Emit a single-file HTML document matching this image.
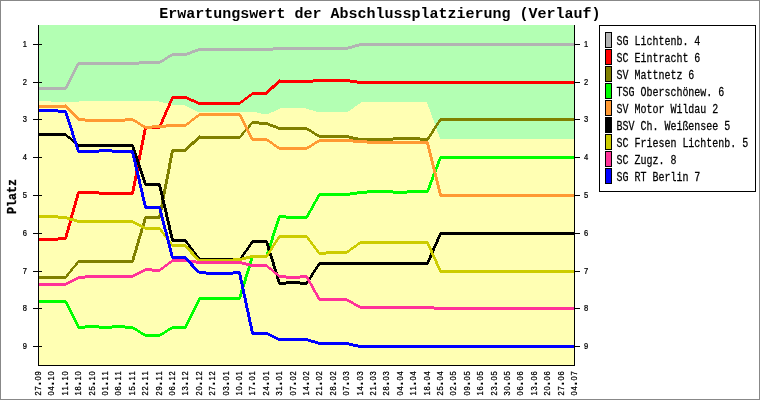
<!DOCTYPE html>
<html lang="de">
<head>
<meta charset="utf-8">
<title>Erwartungswert der Abschlussplatzierung (Verlauf)</title>
<style>
html,body{margin:0;padding:0;background:#fff;}
body{width:760px;height:400px;overflow:hidden;}
svg{display:block;font-family:"Liberation Mono","DejaVu Sans Mono",monospace;}
text{fill:#000;}
.t{font-weight:bold;font-size:14.5px;}
.l{font-size:12.5px;stroke:#000;stroke-width:0.25px;}
.s{font-family:"Liberation Sans","DejaVu Sans",sans-serif;font-weight:normal;font-size:8.4px;stroke:#000;stroke-width:0.25px;}
.d{font-size:15px;font-weight:bold;stroke:none;}
.y{font-weight:bold;font-size:12.3px;stroke:#000;stroke-width:0.3px;}
</style>
</head>
<body>
<svg width="760" height="400" viewBox="0 0 760 400">
<rect x="0" y="0" width="760" height="400" fill="#fff"/>
<rect x="0.5" y="0.5" width="759" height="399" fill="none" stroke="#888888" stroke-width="1" shape-rendering="crispEdges"/>
<g shape-rendering="crispEdges" stroke="none">
<rect x="38" y="25" width="537" height="341" fill="#FFFFB3"/>
<path fill="#B3FFB3" d="M38 25h537v76h-537zM51 101h28v1h-28zM159 101h416v1h-416zM163 102h198v1h-198zM427 102h148v2h-148zM168 103h192v1h-192zM172 104h186v1h-186zM428 104h147v3h-147zM185 105h172v1h-172zM187 106h168v1h-168zM189 107h165v1h-165zM429 107h146v2h-146zM191 108h89v1h-89zM306 108h47v1h-47zM193 109h85v1h-85zM309 109h42v1h-42zM430 109h145v3h-145zM195 110h81v1h-81zM313 110h37v1h-37zM197 111h77v1h-77zM316 111h32v1h-32zM257 112h14v1h-14zM431 112h144v3h-144zM261 113h8v1h-8zM432 115h143v3h-143zM433 118h142v2h-142zM434 120h141v3h-141zM435 123h140v3h-140zM436 126h139v3h-139zM437 129h138v3h-138zM438 132h137v2h-137zM439 134h136v3h-136zM440 137h135v2h-135z"/>
<path fill="#B3B3B3" d="M359 43h216v1h-216zM355 44h220v1h-220zM352 45h223v1h-223zM348 46h11v1h-11zM273 47h82v1h-82zM198 48h154v1h-154zM195 49h153v1h-153zM192 50h81v1h-81zM190 51h8v1h-8zM187 52h8v1h-8zM172 53h20v1h-20zM170 54h20v1h-20zM168 55h19v1h-19zM167 56h5v1h-5zM165 57h5v1h-5zM164 58h4v1h-4zM162 59h5v1h-5zM160 60h5v1h-5zM139 61h25v1h-25zM78 62h84v1h-84zM77 63h83v1h-83zM76 64h63v1h-63zM76 65h3v1h-3zM75 66h3v2h-3zM74 68h3v2h-3zM73 70h3v2h-3zM72 72h3v2h-3zM71 74h3v2h-3zM70 76h3v2h-3zM69 78h3v2h-3zM68 80h3v2h-3zM67 82h3v2h-3zM66 84h3v2h-3zM65 86h3v1h-3zM38 87h30v1h-30zM38 88h29v1h-29zM38 89h28v1h-28z"/>
<path fill="#FF0000" d="M279 79h1v1h-1zM313 79h37v1h-37zM278 80h79v1h-79zM277 81h298v1h-298zM276 82h37v1h-37zM350 82h225v1h-225zM275 83h4v1h-4zM357 83h218v1h-218zM274 84h4v1h-4zM272 85h5v1h-5zM271 86h5v1h-5zM270 87h5v1h-5zM269 88h5v1h-5zM268 89h4v1h-4zM267 90h4v1h-4zM266 91h4v1h-4zM252 92h17v1h-17zM251 93h17v1h-17zM249 94h18v1h-18zM248 95h4v1h-4zM172 96h15v1h-15zM247 96h4v1h-4zM171 97h18v1h-18zM245 97h4v1h-4zM171 98h20v1h-20zM244 98h4v1h-4zM170 99h3v2h-3zM187 99h7v1h-7zM243 99h4v1h-4zM189 100h7v1h-7zM241 100h4v1h-4zM169 101h3v2h-3zM191 101h7v1h-7zM240 101h4v1h-4zM194 102h49v1h-49zM168 103h3v3h-3zM196 103h45v1h-45zM198 104h42v1h-42zM167 106h3v2h-3zM166 108h3v2h-3zM165 110h3v2h-3zM164 112h3v3h-3zM163 115h3v2h-3zM162 117h3v2h-3zM161 119h3v3h-3zM160 122h3v2h-3zM159 124h3v2h-3zM145 126h16v1h-16zM144 127h17v1h-17zM144 128h16v1h-16zM144 129h3v1h-3zM143 130h3v5h-3zM142 135h3v5h-3zM141 140h3v5h-3zM140 145h3v5h-3zM139 150h3v5h-3zM138 155h3v5h-3zM137 160h3v6h-3zM136 166h3v5h-3zM135 171h3v5h-3zM134 176h3v5h-3zM133 181h3v5h-3zM132 186h3v5h-3zM78 191h21v1h-21zM131 191h3v1h-3zM77 192h57v2h-57zM76 194h3v4h-3zM99 194h34v1h-34zM75 198h3v3h-3zM74 201h3v4h-3zM73 205h3v3h-3zM72 208h3v4h-3zM71 212h3v3h-3zM70 215h3v4h-3zM69 219h3v4h-3zM68 223h3v3h-3zM67 226h3v4h-3zM66 230h3v3h-3zM65 233h3v4h-3zM58 237h9v1h-9zM38 238h29v1h-29zM38 239h28v1h-28zM38 240h20v1h-20z"/>
<path fill="#808000" d="M440 118h135v1h-135zM439 119h136v1h-136zM438 120h137v1h-137zM252 121h7v1h-7zM438 121h3v1h-3zM251 122h17v1h-17zM437 122h3v1h-3zM250 123h20v1h-20zM436 123h3v2h-3zM249 124h3v1h-3zM259 124h14v1h-14zM248 125h3v2h-3zM268 125h8v1h-8zM435 125h3v1h-3zM270 126h8v1h-8zM434 126h3v2h-3zM247 127h3v1h-3zM273 127h34v1h-34zM246 128h3v1h-3zM276 128h33v1h-33zM433 128h3v1h-3zM245 129h3v1h-3zM278 129h33v1h-33zM432 129h3v2h-3zM244 130h3v1h-3zM307 130h5v1h-5zM243 131h3v1h-3zM309 131h5v1h-5zM431 131h3v2h-3zM242 132h3v1h-3zM311 132h4v1h-4zM241 133h3v2h-3zM312 133h5v1h-5zM430 133h3v1h-3zM314 134h5v1h-5zM429 134h3v2h-3zM199 135h1v1h-1zM240 135h3v1h-3zM315 135h34v1h-34zM198 136h44v1h-44zM317 136h36v1h-36zM428 136h3v1h-3zM197 137h44v1h-44zM319 137h39v1h-39zM393 137h27v1h-27zM427 137h3v1h-3zM196 138h44v1h-44zM349 138h81v1h-81zM195 139h4v1h-4zM353 139h76v1h-76zM194 140h4v1h-4zM358 140h35v1h-35zM420 140h8v1h-8zM192 141h5v1h-5zM191 142h5v1h-5zM190 143h5v1h-5zM189 144h5v1h-5zM188 145h4v1h-4zM187 146h4v1h-4zM186 147h4v1h-4zM185 148h4v1h-4zM172 149h16v1h-16zM171 150h16v1h-16zM171 151h15v1h-15zM171 152h3v1h-3zM170 153h3v5h-3zM169 158h3v5h-3zM168 163h3v6h-3zM167 169h3v5h-3zM166 174h3v5h-3zM165 179h3v5h-3zM164 184h3v5h-3zM163 189h3v5h-3zM162 194h3v5h-3zM161 199h3v6h-3zM160 205h3v5h-3zM159 210h3v5h-3zM158 215h3v1h-3zM145 216h16v1h-16zM144 217h17v1h-17zM144 218h16v1h-16zM143 219h3v4h-3zM142 223h3v3h-3zM141 226h3v3h-3zM140 229h3v4h-3zM139 233h3v3h-3zM138 236h3v3h-3zM137 239h3v4h-3zM136 243h3v3h-3zM135 246h3v4h-3zM134 250h3v3h-3zM133 253h3v3h-3zM132 256h3v4h-3zM78 260h56v1h-56zM77 261h57v1h-57zM76 262h57v1h-57zM75 263h3v2h-3zM74 265h3v1h-3zM73 266h3v1h-3zM72 267h3v1h-3zM71 268h3v1h-3zM70 269h3v2h-3zM69 271h3v1h-3zM68 272h3v1h-3zM67 273h3v1h-3zM66 274h3v2h-3zM38 276h30v1h-30zM38 277h29v1h-29zM38 278h28v1h-28z"/>
<path fill="#00FF00" d="M440 156h135v1h-135zM439 157h136v2h-136zM438 159h3v2h-3zM437 161h3v3h-3zM436 164h3v3h-3zM435 167h3v2h-3zM434 169h3v3h-3zM433 172h3v2h-3zM432 174h3v3h-3zM431 177h3v3h-3zM430 180h3v2h-3zM429 182h3v3h-3zM428 185h3v3h-3zM427 188h3v2h-3zM367 190h26v1h-26zM407 190h22v1h-22zM357 191h72v1h-72zM350 192h78v1h-78zM319 193h48v1h-48zM393 193h14v1h-14zM318 194h39v1h-39zM317 195h33v1h-33zM317 196h3v1h-3zM316 197h3v2h-3zM315 199h3v2h-3zM314 201h3v1h-3zM313 202h3v2h-3zM312 204h3v2h-3zM311 206h3v2h-3zM310 208h3v2h-3zM309 210h3v1h-3zM308 211h3v2h-3zM307 213h3v2h-3zM279 215h7v1h-7zM306 215h3v1h-3zM278 216h31v1h-31zM278 217h30v1h-30zM277 218h3v3h-3zM286 218h21v1h-21zM276 221h3v3h-3zM275 224h3v3h-3zM274 227h3v3h-3zM273 230h3v3h-3zM272 233h3v3h-3zM271 236h3v4h-3zM270 240h3v3h-3zM269 243h3v3h-3zM268 246h3v3h-3zM267 249h3v3h-3zM266 252h3v3h-3zM252 255h16v1h-16zM251 256h17v1h-17zM251 257h16v1h-16zM250 258h3v3h-3zM249 261h3v4h-3zM248 265h3v3h-3zM247 268h3v3h-3zM246 271h3v3h-3zM245 274h3v3h-3zM244 277h3v4h-3zM243 281h3v3h-3zM242 284h3v3h-3zM241 287h3v3h-3zM240 290h3v4h-3zM239 294h3v3h-3zM199 297h42v1h-42zM198 298h43v1h-43zM198 299h42v1h-42zM38 300h28v1h-28zM197 300h3v2h-3zM38 301h29v1h-29zM38 302h30v1h-30zM196 302h3v2h-3zM65 303h3v1h-3zM66 304h3v2h-3zM195 304h3v2h-3zM67 306h3v2h-3zM194 306h3v2h-3zM68 308h3v2h-3zM193 308h3v2h-3zM69 310h3v2h-3zM192 310h3v2h-3zM70 312h3v2h-3zM191 312h3v2h-3zM71 314h3v2h-3zM190 314h3v2h-3zM72 316h3v2h-3zM189 316h3v2h-3zM73 318h3v2h-3zM188 318h3v2h-3zM74 320h3v2h-3zM187 320h3v2h-3zM75 322h3v2h-3zM186 322h3v2h-3zM76 324h3v2h-3zM185 324h3v2h-3zM85 325h14v1h-14zM112 325h13v1h-13zM77 326h56v1h-56zM172 326h15v1h-15zM77 327h58v1h-58zM170 327h17v1h-17zM78 328h7v1h-7zM99 328h13v1h-13zM125 328h12v1h-12zM168 328h18v1h-18zM133 329h5v1h-5zM167 329h5v1h-5zM135 330h5v1h-5zM165 330h5v1h-5zM137 331h4v1h-4zM164 331h4v1h-4zM138 332h5v1h-5zM162 332h5v1h-5zM140 333h5v1h-5zM160 333h5v1h-5zM141 334h23v1h-23zM143 335h19v1h-19zM145 336h15v1h-15z"/>
<path fill="#FF9933" d="M65 104h1v1h-1zM38 105h29v1h-29zM38 106h30v1h-30zM38 107h31v1h-31zM66 108h4v1h-4zM67 109h4v1h-4zM68 110h4v1h-4zM69 111h4v1h-4zM70 112h4v1h-4zM71 113h4v1h-4zM199 113h41v1h-41zM72 114h4v1h-4zM198 114h43v1h-43zM73 115h4v1h-4zM196 115h46v1h-46zM74 116h4v1h-4zM195 116h4v1h-4zM239 116h3v1h-3zM75 117h4v1h-4zM194 117h4v1h-4zM240 117h3v2h-3zM76 118h9v1h-9zM125 118h8v1h-8zM192 118h4v1h-4zM77 119h58v1h-58zM191 119h4v1h-4zM241 119h3v2h-3zM78 120h59v1h-59zM190 120h4v1h-4zM85 121h40v1h-40zM133 121h5v1h-5zM189 121h3v1h-3zM242 121h3v2h-3zM135 122h5v1h-5zM187 122h4v1h-4zM137 123h4v1h-4zM186 123h4v1h-4zM243 123h3v2h-3zM138 124h5v1h-5zM166 124h23v1h-23zM140 125h5v1h-5zM152 125h35v1h-35zM244 125h3v2h-3zM141 126h45v1h-45zM143 127h23v1h-23zM245 127h3v2h-3zM145 128h7v1h-7zM246 129h3v2h-3zM247 131h3v2h-3zM248 133h3v2h-3zM249 135h3v2h-3zM250 137h3v1h-3zM250 138h17v1h-17zM251 139h18v1h-18zM319 139h34v1h-34zM252 140h18v1h-18zM317 140h50v1h-50zM267 141h5v1h-5zM315 141h113v1h-113zM269 142h4v1h-4zM314 142h5v1h-5zM353 142h76v1h-76zM270 143h4v1h-4zM312 143h5v1h-5zM367 143h62v1h-62zM272 144h4v1h-4zM311 144h4v1h-4zM426 144h3v1h-3zM273 145h4v1h-4zM309 145h5v1h-5zM427 145h3v4h-3zM274 146h5v1h-5zM307 146h5v1h-5zM276 147h35v1h-35zM277 148h32v1h-32zM279 149h28v1h-28zM428 149h3v4h-3zM429 153h3v4h-3zM430 157h3v4h-3zM431 161h3v4h-3zM432 165h3v4h-3zM433 169h3v4h-3zM434 173h3v4h-3zM435 177h3v4h-3zM436 181h3v4h-3zM437 185h3v4h-3zM438 189h3v4h-3zM439 193h3v1h-3zM439 194h136v2h-136zM440 196h135v1h-135z"/>
<path fill="#000000" d="M38 133h28v1h-28zM38 134h29v1h-29zM38 135h30v1h-30zM66 136h4v1h-4zM67 137h4v1h-4zM68 138h4v1h-4zM70 139h3v1h-3zM71 140h3v1h-3zM72 141h4v1h-4zM73 142h4v1h-4zM74 143h4v1h-4zM76 144h57v1h-57zM77 145h57v1h-57zM78 146h56v1h-56zM132 147h3v3h-3zM133 150h3v3h-3zM134 153h3v3h-3zM135 156h3v3h-3zM136 159h3v3h-3zM137 162h3v3h-3zM138 165h3v3h-3zM139 168h3v3h-3zM140 171h3v3h-3zM141 174h3v3h-3zM142 177h3v3h-3zM143 180h3v3h-3zM144 183h16v1h-16zM144 184h17v1h-17zM145 185h16v1h-16zM158 186h3v1h-3zM159 187h3v4h-3zM160 191h3v4h-3zM161 195h3v5h-3zM162 200h3v4h-3zM163 204h3v4h-3zM164 208h3v4h-3zM165 212h3v5h-3zM166 217h3v4h-3zM167 221h3v4h-3zM168 225h3v5h-3zM169 230h3v4h-3zM440 232h135v1h-135zM439 233h136v2h-136zM170 234h3v4h-3zM438 235h3v2h-3zM437 237h3v2h-3zM171 238h3v1h-3zM171 239h15v1h-15zM436 239h3v3h-3zM171 240h16v1h-16zM252 240h15v1h-15zM172 241h16v1h-16zM251 241h17v1h-17zM185 242h3v1h-3zM250 242h18v1h-18zM435 242h3v2h-3zM186 243h3v1h-3zM250 243h3v1h-3zM266 243h3v3h-3zM187 244h3v1h-3zM249 244h3v1h-3zM434 244h3v2h-3zM188 245h3v2h-3zM248 245h3v2h-3zM267 246h3v4h-3zM433 246h3v2h-3zM189 247h3v1h-3zM247 247h3v1h-3zM190 248h3v1h-3zM246 248h3v2h-3zM432 248h3v3h-3zM191 249h3v2h-3zM245 250h3v1h-3zM268 250h3v3h-3zM192 251h3v1h-3zM244 251h3v1h-3zM431 251h3v2h-3zM193 252h3v1h-3zM243 252h3v2h-3zM194 253h3v2h-3zM269 253h3v3h-3zM430 253h3v2h-3zM242 254h3v1h-3zM195 255h3v1h-3zM241 255h3v2h-3zM429 255h3v3h-3zM196 256h3v1h-3zM270 256h3v3h-3zM197 257h3v1h-3zM240 257h3v1h-3zM197 258h36v1h-36zM239 258h3v1h-3zM428 258h3v2h-3zM198 259h44v1h-44zM271 259h3v3h-3zM199 260h42v1h-42zM427 260h3v2h-3zM233 261h7v1h-7zM272 262h3v4h-3zM319 262h110v1h-110zM318 263h111v1h-111zM317 264h111v1h-111zM317 265h3v1h-3zM273 266h3v3h-3zM316 266h3v1h-3zM315 267h3v2h-3zM274 269h3v3h-3zM314 269h3v1h-3zM313 270h3v2h-3zM275 272h3v3h-3zM312 272h3v1h-3zM311 273h3v2h-3zM276 275h3v4h-3zM310 275h3v2h-3zM309 277h3v1h-3zM308 278h3v2h-3zM277 279h3v3h-3zM307 280h3v1h-3zM286 281h14v1h-14zM306 281h3v1h-3zM278 282h31v1h-31zM278 283h30v1h-30zM279 284h7v1h-7zM300 284h7v1h-7z"/>
<path fill="#CCCC00" d="M38 215h20v1h-20zM38 216h29v1h-29zM38 217h32v1h-32zM58 218h16v1h-16zM67 219h10v1h-10zM70 220h63v1h-63zM74 221h61v1h-61zM77 222h60v1h-60zM133 223h6v1h-6zM135 224h6v1h-6zM137 225h6v1h-6zM139 226h6v1h-6zM141 227h19v1h-19zM143 228h18v1h-18zM145 229h17v1h-17zM160 230h3v2h-3zM161 232h3v1h-3zM162 233h3v1h-3zM163 234h3v2h-3zM279 235h28v1h-28zM164 236h3v1h-3zM278 236h30v1h-30zM165 237h3v1h-3zM277 237h32v1h-32zM166 238h3v2h-3zM277 238h3v1h-3zM307 238h3v2h-3zM276 239h3v1h-3zM167 240h3v1h-3zM275 240h3v2h-3zM308 240h3v1h-3zM168 241h3v1h-3zM309 241h3v1h-3zM360 241h68v1h-68zM169 242h3v2h-3zM274 242h3v1h-3zM310 242h3v2h-3zM358 242h71v1h-71zM273 243h3v2h-3zM357 243h72v1h-72zM170 244h16v1h-16zM311 244h3v1h-3zM356 244h4v1h-4zM427 244h3v2h-3zM171 245h16v1h-16zM272 245h3v1h-3zM312 245h3v1h-3zM354 245h4v1h-4zM172 246h16v1h-16zM271 246h3v2h-3zM313 246h3v2h-3zM353 246h4v1h-4zM428 246h3v2h-3zM185 247h4v1h-4zM351 247h5v1h-5zM186 248h4v1h-4zM270 248h3v2h-3zM314 248h3v1h-3zM350 248h4v1h-4zM429 248h3v2h-3zM187 249h4v1h-4zM315 249h3v1h-3zM349 249h4v1h-4zM188 250h4v1h-4zM269 250h3v1h-3zM316 250h3v2h-3zM347 250h4v1h-4zM430 250h3v3h-3zM189 251h4v1h-4zM268 251h3v2h-3zM326 251h24v1h-24zM190 252h4v2h-4zM317 252h32v1h-32zM267 253h3v1h-3zM318 253h29v1h-29zM431 253h3v2h-3zM191 254h4v1h-4zM266 254h3v1h-3zM319 254h7v1h-7zM192 255h4v1h-4zM250 255h19v1h-19zM432 255h3v2h-3zM193 256h4v1h-4zM246 256h22v1h-22zM194 257h4v1h-4zM242 257h25v1h-25zM433 257h3v2h-3zM195 258h4v1h-4zM233 258h17v1h-17zM196 259h50v1h-50zM434 259h3v2h-3zM197 260h45v1h-45zM199 261h34v1h-34zM435 261h3v3h-3zM436 264h3v2h-3zM437 266h3v2h-3zM438 268h3v2h-3zM439 270h136v2h-136zM440 272h135v1h-135z"/>
<path fill="#FF3399" d="M172 259h17v1h-17zM171 260h25v1h-25zM169 261h73v1h-73zM168 262h4v1h-4zM189 262h57v1h-57zM167 263h4v1h-4zM196 263h54v1h-54zM165 264h4v1h-4zM242 264h25v1h-25zM164 265h4v1h-4zM246 265h22v1h-22zM163 266h4v1h-4zM250 266h19v1h-19zM161 267h4v1h-4zM267 267h4v1h-4zM145 268h7v1h-7zM160 268h4v1h-4zM268 268h4v1h-4zM143 269h20v1h-20zM269 269h4v1h-4zM141 270h20v1h-20zM271 270h3v1h-3zM139 271h6v1h-6zM152 271h8v1h-8zM272 271h3v1h-3zM137 272h6v1h-6zM273 272h4v1h-4zM135 273h6v1h-6zM274 273h4v1h-4zM133 274h6v1h-6zM275 274h4v1h-4zM85 275h52v1h-52zM277 275h9v1h-9zM300 275h7v1h-7zM78 276h57v1h-57zM278 276h30v1h-30zM76 277h57v1h-57zM279 277h30v1h-30zM74 278h11v1h-11zM286 278h14v1h-14zM306 278h3v1h-3zM72 279h6v1h-6zM307 279h3v2h-3zM70 280h6v1h-6zM68 281h6v1h-6zM308 281h3v2h-3zM66 282h6v1h-6zM38 283h32v1h-32zM309 283h3v1h-3zM38 284h30v1h-30zM310 284h3v2h-3zM38 285h28v1h-28zM311 286h3v2h-3zM312 288h3v2h-3zM313 290h3v2h-3zM314 292h3v1h-3zM315 293h3v2h-3zM316 295h3v2h-3zM317 297h3v1h-3zM317 298h30v1h-30zM318 299h31v1h-31zM319 300h32v1h-32zM347 301h6v1h-6zM349 302h5v1h-5zM351 303h5v1h-5zM353 304h5v1h-5zM354 305h6v1h-6zM356 306h78v1h-78zM358 307h217v1h-217zM360 308h215v1h-215zM434 309h141v1h-141z"/>
<path fill="#0000FF" d="M38 109h20v1h-20zM38 110h28v1h-28zM38 111h29v1h-29zM58 112h9v1h-9zM65 113h3v3h-3zM66 116h3v3h-3zM67 119h3v3h-3zM68 122h3v3h-3zM69 125h3v3h-3zM70 128h3v3h-3zM71 131h3v4h-3zM72 135h3v3h-3zM73 138h3v3h-3zM74 141h3v3h-3zM75 144h3v3h-3zM76 147h3v3h-3zM99 149h13v1h-13zM77 150h56v1h-56zM77 151h57v1h-57zM78 152h21v1h-21zM112 152h22v1h-22zM131 153h3v1h-3zM132 154h3v4h-3zM133 158h3v4h-3zM134 162h3v5h-3zM135 167h3v4h-3zM136 171h3v4h-3zM137 175h3v4h-3zM138 179h3v5h-3zM139 184h3v4h-3zM140 188h3v4h-3zM141 192h3v5h-3zM142 197h3v4h-3zM143 201h3v4h-3zM144 205h3v1h-3zM144 206h16v1h-16zM144 207h17v1h-17zM145 208h16v1h-16zM159 209h3v4h-3zM160 213h3v4h-3zM161 217h3v4h-3zM162 221h3v4h-3zM163 225h3v4h-3zM164 229h3v3h-3zM165 232h3v4h-3zM166 236h3v4h-3zM167 240h3v4h-3zM168 244h3v4h-3zM169 248h3v4h-3zM170 252h3v4h-3zM171 256h15v1h-15zM171 257h16v1h-16zM172 258h16v1h-16zM185 259h4v1h-4zM186 260h4v1h-4zM187 261h4v1h-4zM188 262h4v1h-4zM189 263h4v1h-4zM190 264h4v2h-4zM191 266h4v1h-4zM192 267h4v1h-4zM193 268h4v1h-4zM194 269h4v1h-4zM195 270h4v1h-4zM196 271h10v1h-10zM233 271h7v1h-7zM197 272h44v1h-44zM199 273h42v1h-42zM206 274h27v1h-27zM238 274h3v1h-3zM239 275h3v5h-3zM240 280h3v4h-3zM241 284h3v5h-3zM242 289h3v5h-3zM243 294h3v4h-3zM244 298h3v5h-3zM245 303h3v5h-3zM246 308h3v4h-3zM247 312h3v5h-3zM248 317h3v5h-3zM249 322h3v4h-3zM250 326h3v5h-3zM251 331h3v1h-3zM251 332h17v1h-17zM251 333h19v1h-19zM252 334h20v1h-20zM268 335h6v1h-6zM270 336h6v1h-6zM272 337h6v1h-6zM274 338h34v1h-34zM276 339h35v1h-35zM278 340h37v1h-37zM308 341h10v1h-10zM311 342h38v1h-38zM315 343h38v1h-38zM318 344h40v1h-40zM349 345h226v1h-226zM353 346h222v1h-222zM358 347h217v1h-217z"/>
</g>
<g stroke="#000" stroke-width="1" shape-rendering="crispEdges" fill="none">
<line x1="38.5" y1="25" x2="38.5" y2="366"/>
<line x1="574.5" y1="25" x2="574.5" y2="366"/>
<line x1="38" y1="365.5" x2="575" y2="365.5"/>
<line x1="33" y1="44.5" x2="42" y2="44.5"/>
<line x1="574" y1="44.5" x2="580" y2="44.5"/>
<line x1="33" y1="82.5" x2="42" y2="82.5"/>
<line x1="574" y1="82.5" x2="580" y2="82.5"/>
<line x1="33" y1="119.5" x2="42" y2="119.5"/>
<line x1="574" y1="119.5" x2="580" y2="119.5"/>
<line x1="33" y1="157.5" x2="42" y2="157.5"/>
<line x1="574" y1="157.5" x2="580" y2="157.5"/>
<line x1="33" y1="195.5" x2="42" y2="195.5"/>
<line x1="574" y1="195.5" x2="580" y2="195.5"/>
<line x1="33" y1="233.5" x2="42" y2="233.5"/>
<line x1="574" y1="233.5" x2="580" y2="233.5"/>
<line x1="33" y1="271.5" x2="42" y2="271.5"/>
<line x1="574" y1="271.5" x2="580" y2="271.5"/>
<line x1="33" y1="308.5" x2="42" y2="308.5"/>
<line x1="574" y1="308.5" x2="580" y2="308.5"/>
<line x1="33" y1="346.5" x2="42" y2="346.5"/>
<line x1="574" y1="346.5" x2="580" y2="346.5"/>
</g>
<g class="s">
<text transform="translate(22.3,47) scale(0.9,1)" x="0.44">1</text>
<text transform="translate(583.5,47) scale(0.9,1)" x="0.44">1</text>
<text transform="translate(22.3,85) scale(0.9,1)" x="0.44">2</text>
<text transform="translate(583.5,85) scale(0.9,1)" x="0.44">2</text>
<text transform="translate(22.3,122) scale(0.9,1)" x="0.44">3</text>
<text transform="translate(583.5,122) scale(0.9,1)" x="0.44">3</text>
<text transform="translate(22.3,160) scale(0.9,1)" x="0.44">4</text>
<text transform="translate(583.5,160) scale(0.9,1)" x="0.44">4</text>
<text transform="translate(22.3,198) scale(0.9,1)" x="0.44">5</text>
<text transform="translate(583.5,198) scale(0.9,1)" x="0.44">5</text>
<text transform="translate(22.3,236) scale(0.9,1)" x="0.44">6</text>
<text transform="translate(583.5,236) scale(0.9,1)" x="0.44">6</text>
<text transform="translate(22.3,274) scale(0.9,1)" x="0.44">7</text>
<text transform="translate(583.5,274) scale(0.9,1)" x="0.44">7</text>
<text transform="translate(22.3,311) scale(0.9,1)" x="0.44">8</text>
<text transform="translate(583.5,311) scale(0.9,1)" x="0.44">8</text>
<text transform="translate(22.3,349) scale(0.9,1)" x="0.44">9</text>
<text transform="translate(583.5,349) scale(0.9,1)" x="0.44">9</text>
<text transform="translate(41,396) rotate(-90) scale(0.9,1)" x="0.44 6 11.8 17.11 22.66">27<tspan class="d">.</tspan>09</text>
<text transform="translate(54,396) rotate(-90) scale(0.9,1)" x="0.44 6 11.8 17.11 22.66">04<tspan class="d">.</tspan>10</text>
<text transform="translate(68,396) rotate(-90) scale(0.9,1)" x="0.44 6 11.8 17.11 22.66">11<tspan class="d">.</tspan>10</text>
<text transform="translate(81,396) rotate(-90) scale(0.9,1)" x="0.44 6 11.8 17.11 22.66">18<tspan class="d">.</tspan>10</text>
<text transform="translate(95,396) rotate(-90) scale(0.9,1)" x="0.44 6 11.8 17.11 22.66">25<tspan class="d">.</tspan>10</text>
<text transform="translate(108,396) rotate(-90) scale(0.9,1)" x="0.44 6 11.8 17.11 22.66">01<tspan class="d">.</tspan>11</text>
<text transform="translate(121,396) rotate(-90) scale(0.9,1)" x="0.44 6 11.8 17.11 22.66">08<tspan class="d">.</tspan>11</text>
<text transform="translate(135,396) rotate(-90) scale(0.9,1)" x="0.44 6 11.8 17.11 22.66">15<tspan class="d">.</tspan>11</text>
<text transform="translate(148,396) rotate(-90) scale(0.9,1)" x="0.44 6 11.8 17.11 22.66">22<tspan class="d">.</tspan>11</text>
<text transform="translate(162,396) rotate(-90) scale(0.9,1)" x="0.44 6 11.8 17.11 22.66">29<tspan class="d">.</tspan>11</text>
<text transform="translate(175,396) rotate(-90) scale(0.9,1)" x="0.44 6 11.8 17.11 22.66">06<tspan class="d">.</tspan>12</text>
<text transform="translate(188,396) rotate(-90) scale(0.9,1)" x="0.44 6 11.8 17.11 22.66">13<tspan class="d">.</tspan>12</text>
<text transform="translate(202,396) rotate(-90) scale(0.9,1)" x="0.44 6 11.8 17.11 22.66">20<tspan class="d">.</tspan>12</text>
<text transform="translate(215,396) rotate(-90) scale(0.9,1)" x="0.44 6 11.8 17.11 22.66">27<tspan class="d">.</tspan>12</text>
<text transform="translate(229,396) rotate(-90) scale(0.9,1)" x="0.44 6 11.8 17.11 22.66">03<tspan class="d">.</tspan>01</text>
<text transform="translate(242,396) rotate(-90) scale(0.9,1)" x="0.44 6 11.8 17.11 22.66">10<tspan class="d">.</tspan>01</text>
<text transform="translate(255,396) rotate(-90) scale(0.9,1)" x="0.44 6 11.8 17.11 22.66">17<tspan class="d">.</tspan>01</text>
<text transform="translate(269,396) rotate(-90) scale(0.9,1)" x="0.44 6 11.8 17.11 22.66">24<tspan class="d">.</tspan>01</text>
<text transform="translate(282,396) rotate(-90) scale(0.9,1)" x="0.44 6 11.8 17.11 22.66">31<tspan class="d">.</tspan>01</text>
<text transform="translate(296,396) rotate(-90) scale(0.9,1)" x="0.44 6 11.8 17.11 22.66">07<tspan class="d">.</tspan>02</text>
<text transform="translate(309,396) rotate(-90) scale(0.9,1)" x="0.44 6 11.8 17.11 22.66">14<tspan class="d">.</tspan>02</text>
<text transform="translate(322,396) rotate(-90) scale(0.9,1)" x="0.44 6 11.8 17.11 22.66">21<tspan class="d">.</tspan>02</text>
<text transform="translate(336,396) rotate(-90) scale(0.9,1)" x="0.44 6 11.8 17.11 22.66">28<tspan class="d">.</tspan>02</text>
<text transform="translate(349,396) rotate(-90) scale(0.9,1)" x="0.44 6 11.8 17.11 22.66">07<tspan class="d">.</tspan>03</text>
<text transform="translate(363,396) rotate(-90) scale(0.9,1)" x="0.44 6 11.8 17.11 22.66">14<tspan class="d">.</tspan>03</text>
<text transform="translate(376,396) rotate(-90) scale(0.9,1)" x="0.44 6 11.8 17.11 22.66">21<tspan class="d">.</tspan>03</text>
<text transform="translate(389,396) rotate(-90) scale(0.9,1)" x="0.44 6 11.8 17.11 22.66">28<tspan class="d">.</tspan>03</text>
<text transform="translate(403,396) rotate(-90) scale(0.9,1)" x="0.44 6 11.8 17.11 22.66">04<tspan class="d">.</tspan>04</text>
<text transform="translate(416,396) rotate(-90) scale(0.9,1)" x="0.44 6 11.8 17.11 22.66">11<tspan class="d">.</tspan>04</text>
<text transform="translate(430,396) rotate(-90) scale(0.9,1)" x="0.44 6 11.8 17.11 22.66">18<tspan class="d">.</tspan>04</text>
<text transform="translate(443,396) rotate(-90) scale(0.9,1)" x="0.44 6 11.8 17.11 22.66">25<tspan class="d">.</tspan>04</text>
<text transform="translate(456,396) rotate(-90) scale(0.9,1)" x="0.44 6 11.8 17.11 22.66">02<tspan class="d">.</tspan>05</text>
<text transform="translate(470,396) rotate(-90) scale(0.9,1)" x="0.44 6 11.8 17.11 22.66">09<tspan class="d">.</tspan>05</text>
<text transform="translate(483,396) rotate(-90) scale(0.9,1)" x="0.44 6 11.8 17.11 22.66">16<tspan class="d">.</tspan>05</text>
<text transform="translate(497,396) rotate(-90) scale(0.9,1)" x="0.44 6 11.8 17.11 22.66">23<tspan class="d">.</tspan>05</text>
<text transform="translate(510,396) rotate(-90) scale(0.9,1)" x="0.44 6 11.8 17.11 22.66">30<tspan class="d">.</tspan>05</text>
<text transform="translate(523,396) rotate(-90) scale(0.9,1)" x="0.44 6 11.8 17.11 22.66">06<tspan class="d">.</tspan>06</text>
<text transform="translate(537,396) rotate(-90) scale(0.9,1)" x="0.44 6 11.8 17.11 22.66">13<tspan class="d">.</tspan>06</text>
<text transform="translate(550,396) rotate(-90) scale(0.9,1)" x="0.44 6 11.8 17.11 22.66">20<tspan class="d">.</tspan>06</text>
<text transform="translate(564,396) rotate(-90) scale(0.9,1)" x="0.44 6 11.8 17.11 22.66">27<tspan class="d">.</tspan>06</text>
<text transform="translate(577,396) rotate(-90) scale(0.9,1)" x="0.44 6 11.8 17.11 22.66">04<tspan class="d">.</tspan>07</text>
</g>
<text class="y" transform="translate(16.2,214) rotate(-90) scale(0.9485,1)">Platz</text>
<text class="t" transform="translate(159.3,18) scale(1.036,1)">Erwartungswert der Abschlussplatzierung (Verlauf)</text>
<g shape-rendering="crispEdges">
<rect x="599.5" y="25.5" width="156" height="166" fill="#fff" stroke="#000" stroke-width="1"/>
<rect x="605.5" y="32.5" width="6" height="15" fill="#B3B3B3" stroke="#000" stroke-width="1"/>
<rect x="605.5" y="49.5" width="6" height="15" fill="#FF0000" stroke="#000" stroke-width="1"/>
<rect x="605.5" y="66.5" width="6" height="15" fill="#808000" stroke="#000" stroke-width="1"/>
<rect x="605.5" y="83.5" width="6" height="15" fill="#00FF00" stroke="#000" stroke-width="1"/>
<rect x="605.5" y="100.5" width="6" height="15" fill="#FF9933" stroke="#000" stroke-width="1"/>
<rect x="605.5" y="117.5" width="6" height="15" fill="#000000" stroke="#000" stroke-width="1"/>
<rect x="605.5" y="134.5" width="6" height="15" fill="#CCCC00" stroke="#000" stroke-width="1"/>
<rect x="605.5" y="151.5" width="6" height="15" fill="#FF3399" stroke="#000" stroke-width="1"/>
<rect x="605.5" y="168.5" width="6" height="15" fill="#0000FF" stroke="#000" stroke-width="1"/>
</g>
<g class="l">
<text transform="translate(616.5,45.4) scale(0.8,1)">SG Lichtenb. 4</text>
<text transform="translate(616.5,62.4) scale(0.8,1)">SC Eintracht 6</text>
<text transform="translate(616.5,79.4) scale(0.8,1)">SV Mattnetz 6</text>
<text transform="translate(616.5,96.4) scale(0.8,1)">TSG Oberschönew. 6</text>
<text transform="translate(616.5,113.4) scale(0.8,1)">SV Motor Wildau 2</text>
<text transform="translate(616.5,130.4) scale(0.8,1)">BSV Ch. Weißensee 5</text>
<text transform="translate(616.5,147.4) scale(0.8,1)">SC Friesen Lichtenb. 5</text>
<text transform="translate(616.5,164.4) scale(0.8,1)">SC Zugz. 8</text>
<text transform="translate(616.5,181.4) scale(0.8,1)">SG RT Berlin 7</text>
</g>
</svg>
</body>
</html>
